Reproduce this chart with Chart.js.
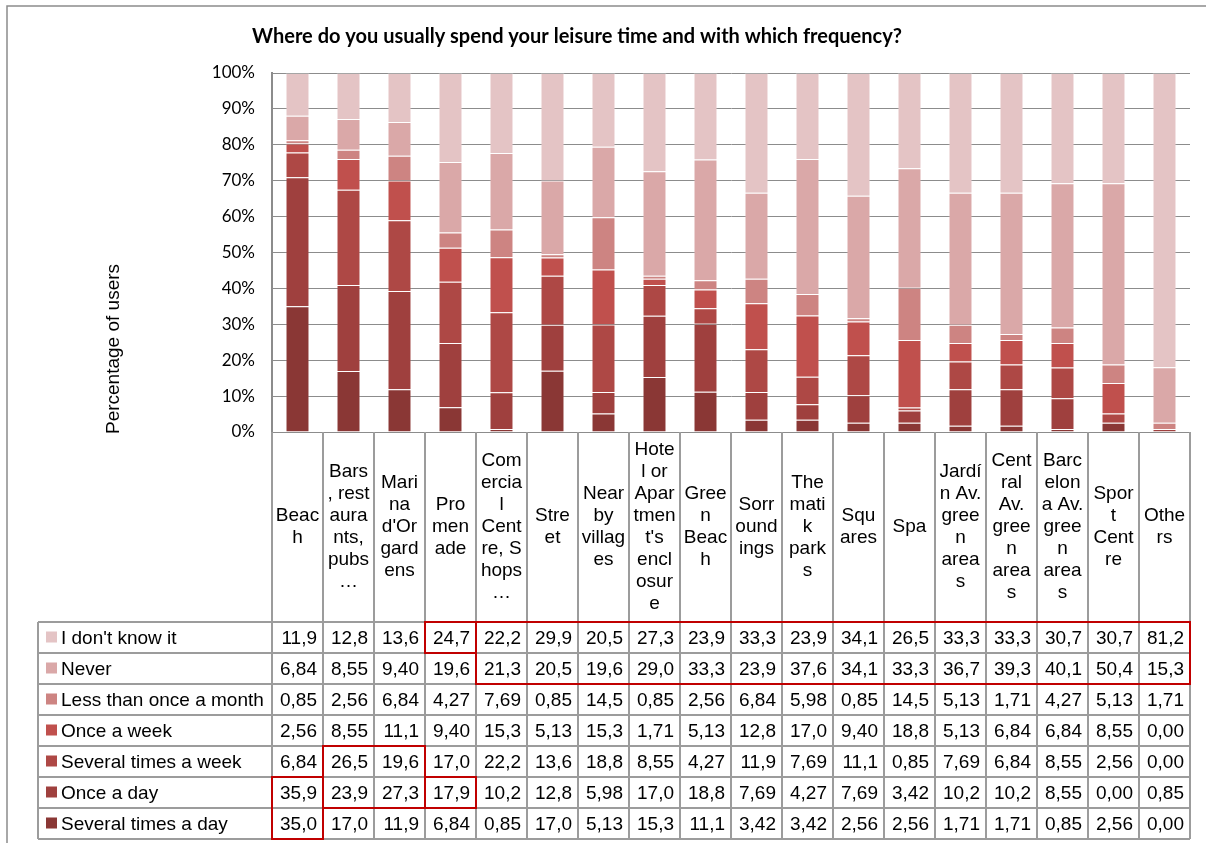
<!DOCTYPE html>
<html>
<head>
<meta charset="utf-8">
<title>Leisure time</title>
<script src="https://cdn.jsdelivr.net/npm/chart.js@4.4.1/dist/chart.umd.min.js"></script>
<style>
  body { margin: 0; background: #fff; }
  #wrap { width: 1206px; height: 843px; }
</style>
</head>
<body>
<div id="wrap"><canvas id="leisure-chart" width="1206" height="843"></canvas></div>
<script>
// categorias, ya partidas en lineas como en la cabecera de la tabla
const categories = [
  ["Beac", "h"],
  ["Bars", ", rest", "aura", "nts,", "pubs", "…"],
  ["Mari", "na", "d'Or", "gard", "ens"],
  ["Pro", "men", "ade"],
  ["Com", "ercia", "l", "Cent", "re, S", "hops", "…"],
  ["Stre", "et"],
  ["Near", "by", "villag", "es"],
  ["Hote", "l or", "Apar", "tmen", "t's", "encl", "osur", "e"],
  ["Gree", "n", "Beac", "h"],
  ["Sorr", "ound", "ings"],
  ["The", "mati", "k", "park", "s"],
  ["Squ", "ares"],
  ["Spa"],
  ["Jardí", "n Av.", "gree", "n", "area", "s"],
  ["Cent", "ral", "Av.", "gree", "n", "area", "s"],
  ["Barc", "elon", "a Av.", "gree", "n", "area", "s"],
  ["Spor", "t", "Cent", "re"],
  ["Othe", "rs"],
];

const dontKnow = [11.9, 12.8, 13.6, 24.7, 22.2, 29.9, 20.5, 27.3, 23.9, 33.3, 23.9, 34.1, 26.5, 33.3, 33.3, 30.7, 30.7, 81.2];
const never = [6.84, 8.55, 9.40, 19.6, 21.3, 20.5, 19.6, 29.0, 33.3, 23.9, 37.6, 34.1, 33.3, 36.7, 39.3, 40.1, 50.4, 15.3];
const lessMonth = [0.85, 2.56, 6.84, 4.27, 7.69, 0.85, 14.5, 0.85, 2.56, 6.84, 5.98, 0.85, 14.5, 5.13, 1.71, 4.27, 5.13, 1.71];
const onceWeek = [2.56, 8.55, 11.1, 9.40, 15.3, 5.13, 15.3, 1.71, 5.13, 12.8, 17.0, 9.40, 18.8, 5.13, 6.84, 6.84, 8.55, 0.00];
const severalWeek = [6.84, 26.5, 19.6, 17.0, 22.2, 13.6, 18.8, 8.55, 4.27, 11.9, 7.69, 11.1, 0.85, 7.69, 6.84, 8.55, 2.56, 0.00];
const onceDay = [35.9, 23.9, 27.3, 17.9, 10.2, 12.8, 5.98, 17.0, 18.8, 7.69, 4.27, 7.69, 3.42, 10.2, 10.2, 8.55, 0.00, 0.85];
const severalDay = [35.0, 17.0, 11.9, 6.84, 0.85, 17.0, 5.13, 15.3, 11.1, 3.42, 3.42, 2.56, 2.56, 1.71, 1.71, 0.85, 2.56, 0.00];

const yTicks = [0, 10, 20, 30, 40, 50, 60, 70, 80, 90, 100];

// celdas marcadas en rojo: [colDesde, colHasta, filaDesde, filaHasta]
const highlights = [
  [0, 0, 5, 6],
  [1, 2, 4, 5],
  [3, 3, 0, 0],
  [3, 3, 5, 5],
  [4, 17, 0, 1],
];

// filas de la tabla, de arriba a abajo
const tableRows = [
  { label: "I don't know it", values: dontKnow, color: "#E4C4C5" },
  { label: "Never", values: never, color: "#DAA8A8" },
  { label: "Less than once a month", values: lessMonth, color: "#CD8482" },
  { label: "Once a week", values: onceWeek, color: "#C0504D" },
  { label: "Several times a week", values: severalWeek, color: "#AE4845" },
  { label: "Once a day", values: onceDay, color: "#9F403E" },
  { label: "Several times a day", values: severalDay, color: "#8A3735" },
];

// 100% apilado: se normaliza cada columna
const totals = categories.map((c, i) =>
  tableRows.reduce((s, row) => s + row.values[i], 0)
);
const toPct = (arr) => arr.map((v, i) => (v / totals[i]) * 100);

const fmt = (v) => (v >= 10 ? v.toFixed(1) : v.toFixed(2)).replace(".", ",");

const TABLE_FONT = "19px 'Liberation Sans', Arial, sans-serif";

// marco, titulo y titulo del eje
const decorPlugin = {
  id: "decor",
  afterDraw(chart) {
    const ctx = chart.ctx;
    ctx.save();
    ctx.strokeStyle = "#8c8c8c";
    ctx.lineWidth = 1.5;
    ctx.beginPath();
    ctx.moveTo(7, 843);
    ctx.lineTo(7, 6);
    ctx.lineTo(1206, 6);
    ctx.stroke();

    ctx.fillStyle = "#000";
    ctx.font = "bold 20px Lato, sans-serif";
    ctx.textAlign = "center";
    ctx.textBaseline = "middle";
    ctx.fillText("Where do you usually spend your leisure time and with which frequency?", 577, 37);

    ctx.translate(114, 349);
    ctx.rotate(-Math.PI / 2);
    ctx.font = TABLE_FONT;
    ctx.fillText("Percentage of users", 0, 0);
    ctx.restore();
  },
};

// tabla de datos debajo del grafico
const tablePlugin = {
  id: "dataTable",
  afterDraw(chart) {
    const ctx = chart.ctx;
    const area = chart.chartArea;
    const xScale = chart.scales.x;
    const n = categories.length;
    const colW = (area.right - area.left) / n;
    const top = area.bottom;
    const headerBottom = top + 190;
    const rowH = 31;
    const bottom = headerBottom + rowH * tableRows.length;
    const legendLeft = 38;
    const colEdge = (i) => xScale.getPixelForValue(i) - colW / 2;

    ctx.save();
    // lineas
    ctx.strokeStyle = "#9c9c9c";
    ctx.lineWidth = 2;
    ctx.beginPath();
    for (let i = 0; i <= n; i++) {
      const x = colEdge(i);
      ctx.moveTo(x, top);
      ctx.lineTo(x, bottom);
    }
    for (let r = 0; r <= tableRows.length; r++) {
      const y = headerBottom + r * rowH;
      ctx.moveTo(legendLeft, y);
      ctx.lineTo(colEdge(n), y);
    }
    ctx.moveTo(legendLeft, headerBottom);
    ctx.lineTo(legendLeft, bottom);
    ctx.stroke();

    // cabecera
    ctx.fillStyle = "#000";
    ctx.font = TABLE_FONT;
    ctx.textAlign = "center";
    ctx.textBaseline = "middle";
    const mid = (top + headerBottom) / 2;
    categories.forEach((lines, i) => {
      const cx = xScale.getPixelForValue(i);
      const start = mid - ((lines.length - 1) * 22) / 2;
      lines.forEach((t, k) => ctx.fillText(t, cx, start + k * 22));
    });

    // filas
    tableRows.forEach((row, r) => {
      const cy = headerBottom + rowH * r + rowH / 2 + 1;
      ctx.fillStyle = row.color;
      ctx.fillRect(legendLeft + 8, cy - 7, 11, 11);
      ctx.fillStyle = "#000";
      ctx.textAlign = "left";
      ctx.fillText(row.label, legendLeft + 23, cy);
      ctx.textAlign = "right";
      row.values.forEach((v, i) => {
        ctx.fillText(fmt(v), colEdge(i + 1) - 6, cy);
      });
    });

    // recuadros rojos
    ctx.strokeStyle = "#C00000";
    ctx.lineWidth = 2;
    highlights.forEach(([c0, c1, r0, r1]) => {
      const x0 = colEdge(c0);
      const x1 = colEdge(c1 + 1);
      const y0 = headerBottom + r0 * rowH;
      const y1 = headerBottom + (r1 + 1) * rowH;
      ctx.strokeRect(x0, y0, x1 - x0, y1 - y0);
    });
    ctx.restore();
  },
};

const seriesBottomUp = [...tableRows].reverse();

const containerChart = document.querySelector("#leisure-chart").getContext("2d");

const leisureChart = new Chart(containerChart, {
  type: "bar",
  data: {
    labels: categories,
    datasets: seriesBottomUp.map((row) => ({
      label: row.label,
      data: toPct(row.values),
      backgroundColor: row.color,
      borderColor: "rgba(255,255,255,0.22)",
      borderWidth: 1,
      barPercentage: 0.47,
      categoryPercentage: 1,
    })),
  },
  options: {
    responsive: false,
    animation: false,
    layout: { padding: { top: 73, right: 16, bottom: 411, left: 0 } },
    plugins: {
      legend: { display: false },
      tooltip: { enabled: false },
    },
    scales: {
      x: {
        stacked: true,
        display: false,
      },
      y: {
        stacked: true,
        min: 0,
        max: 100,
        afterFit(scale) {
          scale.width = 272;
        },
        afterBuildTicks(scale) {
          scale.ticks = yTicks.map((v) => ({ value: v }));
        },
        ticks: {
          padding: 17,
          color: "#000",
          font: { family: "Lato", size: 17 },
          callback: (v) => v + "%",
        },
        grid: {
          color: "#8c8c8c",
          lineWidth: 1,
          drawTicks: false,
        },
        border: { color: "#8c8c8c", width: 2 },
      },
    },
  },
  plugins: [decorPlugin, tablePlugin],
});
</script>
</body>
</html>
